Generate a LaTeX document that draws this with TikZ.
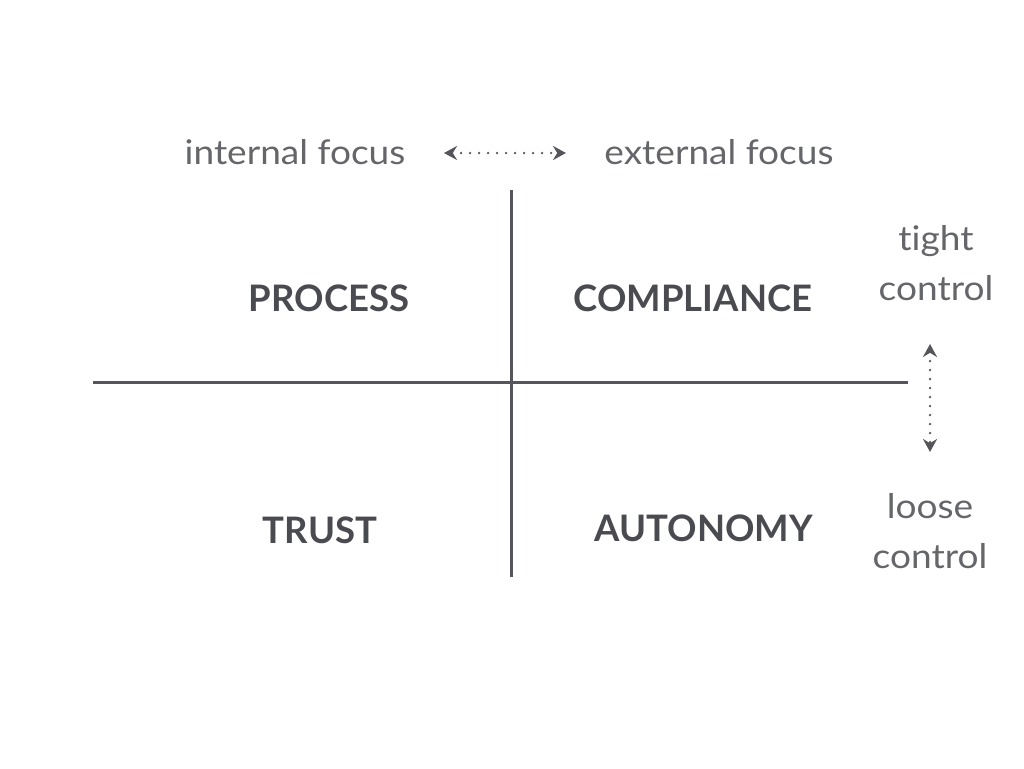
\documentclass[tikz,border=0pt]{standalone}
\usepackage{fontspec}
\setmainfont[Ligatures=NoCommon]{Lato}
\usetikzlibrary{arrows.meta}
\definecolor{ink}{HTML}{55565B}
\definecolor{txt}{HTML}{4A4B50}
\begin{document}
\begin{tikzpicture}[x=1pt,y=-1pt,
  axis/.style={draw=ink,line width=3pt},
  thin/.style={font=\fontsize{34}{50}\selectfont\addfontfeature{FakeStretch=1.09},text=txt!85,align=center,inner sep=0pt},
  quad/.style={font=\fontsize{36.5}{40}\selectfont\bfseries,text=txt,inner sep=0pt},
  dotarrow/.style={draw=ink,line width=2.6pt,line cap=round,dash pattern=on 0pt off 9pt,
    {Stealth[length=13pt,width=14pt]}-{Stealth[length=13pt,width=14pt]}}]
\useasboundingbox (0,0) rectangle (1024,768);
\coordinate (hl) at (93,382);
\coordinate (hr) at (908,382);
\coordinate (vt) at (511,190);
\coordinate (vb) at (511,577);
\draw[axis] (hl) -- (hr);
\draw[axis] (vt) -- (vb);
\node[thin] (inf) at (295,152) {internal focus};
\node[thin] (exf) at (719,152) {external focus};
\coordinate (al) at (444,153);
\coordinate (ar) at (566,153);
\draw[dotarrow] (al) -- (ar);
\node[thin] (tc) at (936,263) {tight\\control};
\node[thin] (lc) at (930,531) {loose\\control};
\coordinate (at) at (930,344);
\coordinate (ab) at (930,452);
\draw[dotarrow] (at) -- (ab);
\node[quad] (p) at (329,298) {PROCESS};
\node[quad] (c) at (693,298) {COMPLIANCE};
\node[quad] (t) at (320,530) {TRUST};
\node[quad] (a) at (704,528) {AUTONOMY};
\end{tikzpicture}
\end{document}
